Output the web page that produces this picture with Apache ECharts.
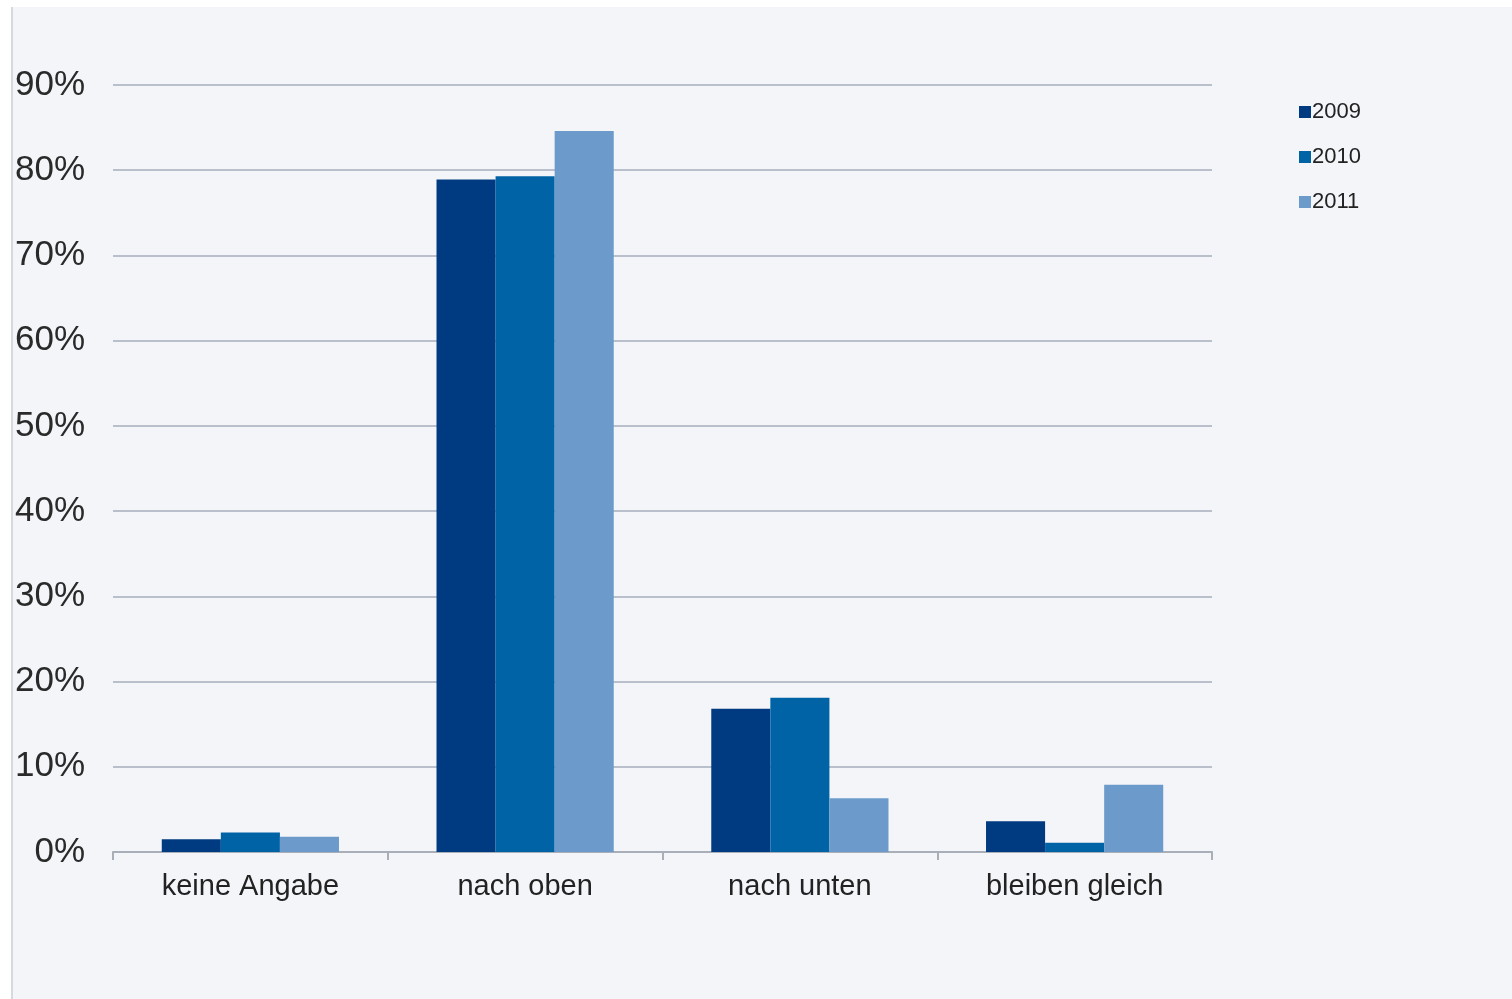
<!DOCTYPE html>
<html>
<head>
<meta charset="utf-8">
<script src="https://cdn.jsdelivr.net/npm/echarts@6/dist/echarts.min.js"></script>
<style>
  html, body { margin: 0; padding: 0; background: #ffffff; }
  #bg { position: absolute; left: 11px; top: 7px; width: 1501px; height: 992px; background: #f4f5f9; border-left: 2px solid #d6d9df; }
  #chart { position: absolute; left: 0; top: 0; width: 1512px; height: 999px; }
</style>
</head>
<body>
<div id="bg"></div>
<div id="chart"></div>
<script>
const categories = ['keine Angabe', 'nach oben', 'nach unten', 'bleiben gleich'];
const seriesNames = ['2009', '2010', '2011'];
const values2009 = [1.5, 78.9, 16.8, 3.6];
const values2010 = [2.3, 79.3, 18.1, 1.1];
const values2011 = [1.8, 84.6, 6.3, 7.9];
const colors = ['#003a80', '#0063a6', '#6b9acb'];

const chart = echarts.init(document.getElementById('chart'), null, { renderer: 'canvas' });
const font = 'Liberation Sans, Arial, sans-serif';
const data = [values2009, values2010, values2011];

chart.setOption({
  backgroundColor: 'transparent',
  animation: false,
  color: colors,
  legend: {
    orient: 'vertical',
    left: 1294,
    top: 96,
    itemWidth: 12,
    itemHeight: 12,
    itemGap: 23,
    icon: 'rect',
    textStyle: { fontFamily: font, fontSize: 22, color: '#222', padding: [0, 0, 0, -4] },
    data: seriesNames
  },
  grid: { left: 113, right: 300, top: 85, bottom: 147, containLabel: false },
  xAxis: {
    type: 'category',
    data: categories,
    axisLine: { show: true, lineStyle: { color: '#a9afb8', width: 2 } },
    axisTick: { show: true, length: 8, lineStyle: { color: '#a9afb8', width: 2 } },
    axisLabel: { fontFamily: font, fontSize: 29, color: '#222', margin: 20 }
  },
  yAxis: {
    type: 'value',
    min: 0,
    max: 90,
    interval: 10,
    axisLine: { show: false },
    axisTick: { show: false },
    splitLine: { lineStyle: { color: '#b9c0cc', width: 2 } },
    axisLabel: { fontFamily: font, fontSize: 35, color: '#2a2a2a', margin: 28, formatter: '{value}%' }
  },
  series: seriesNames.map((name, i) => ({
    name: name,
    type: 'bar',
    data: data[i],
    barGap: '0%',
    barCategoryGap: '35.5%',
    itemStyle: { color: colors[i] }
  }))
});
</script>
</body>
</html>
